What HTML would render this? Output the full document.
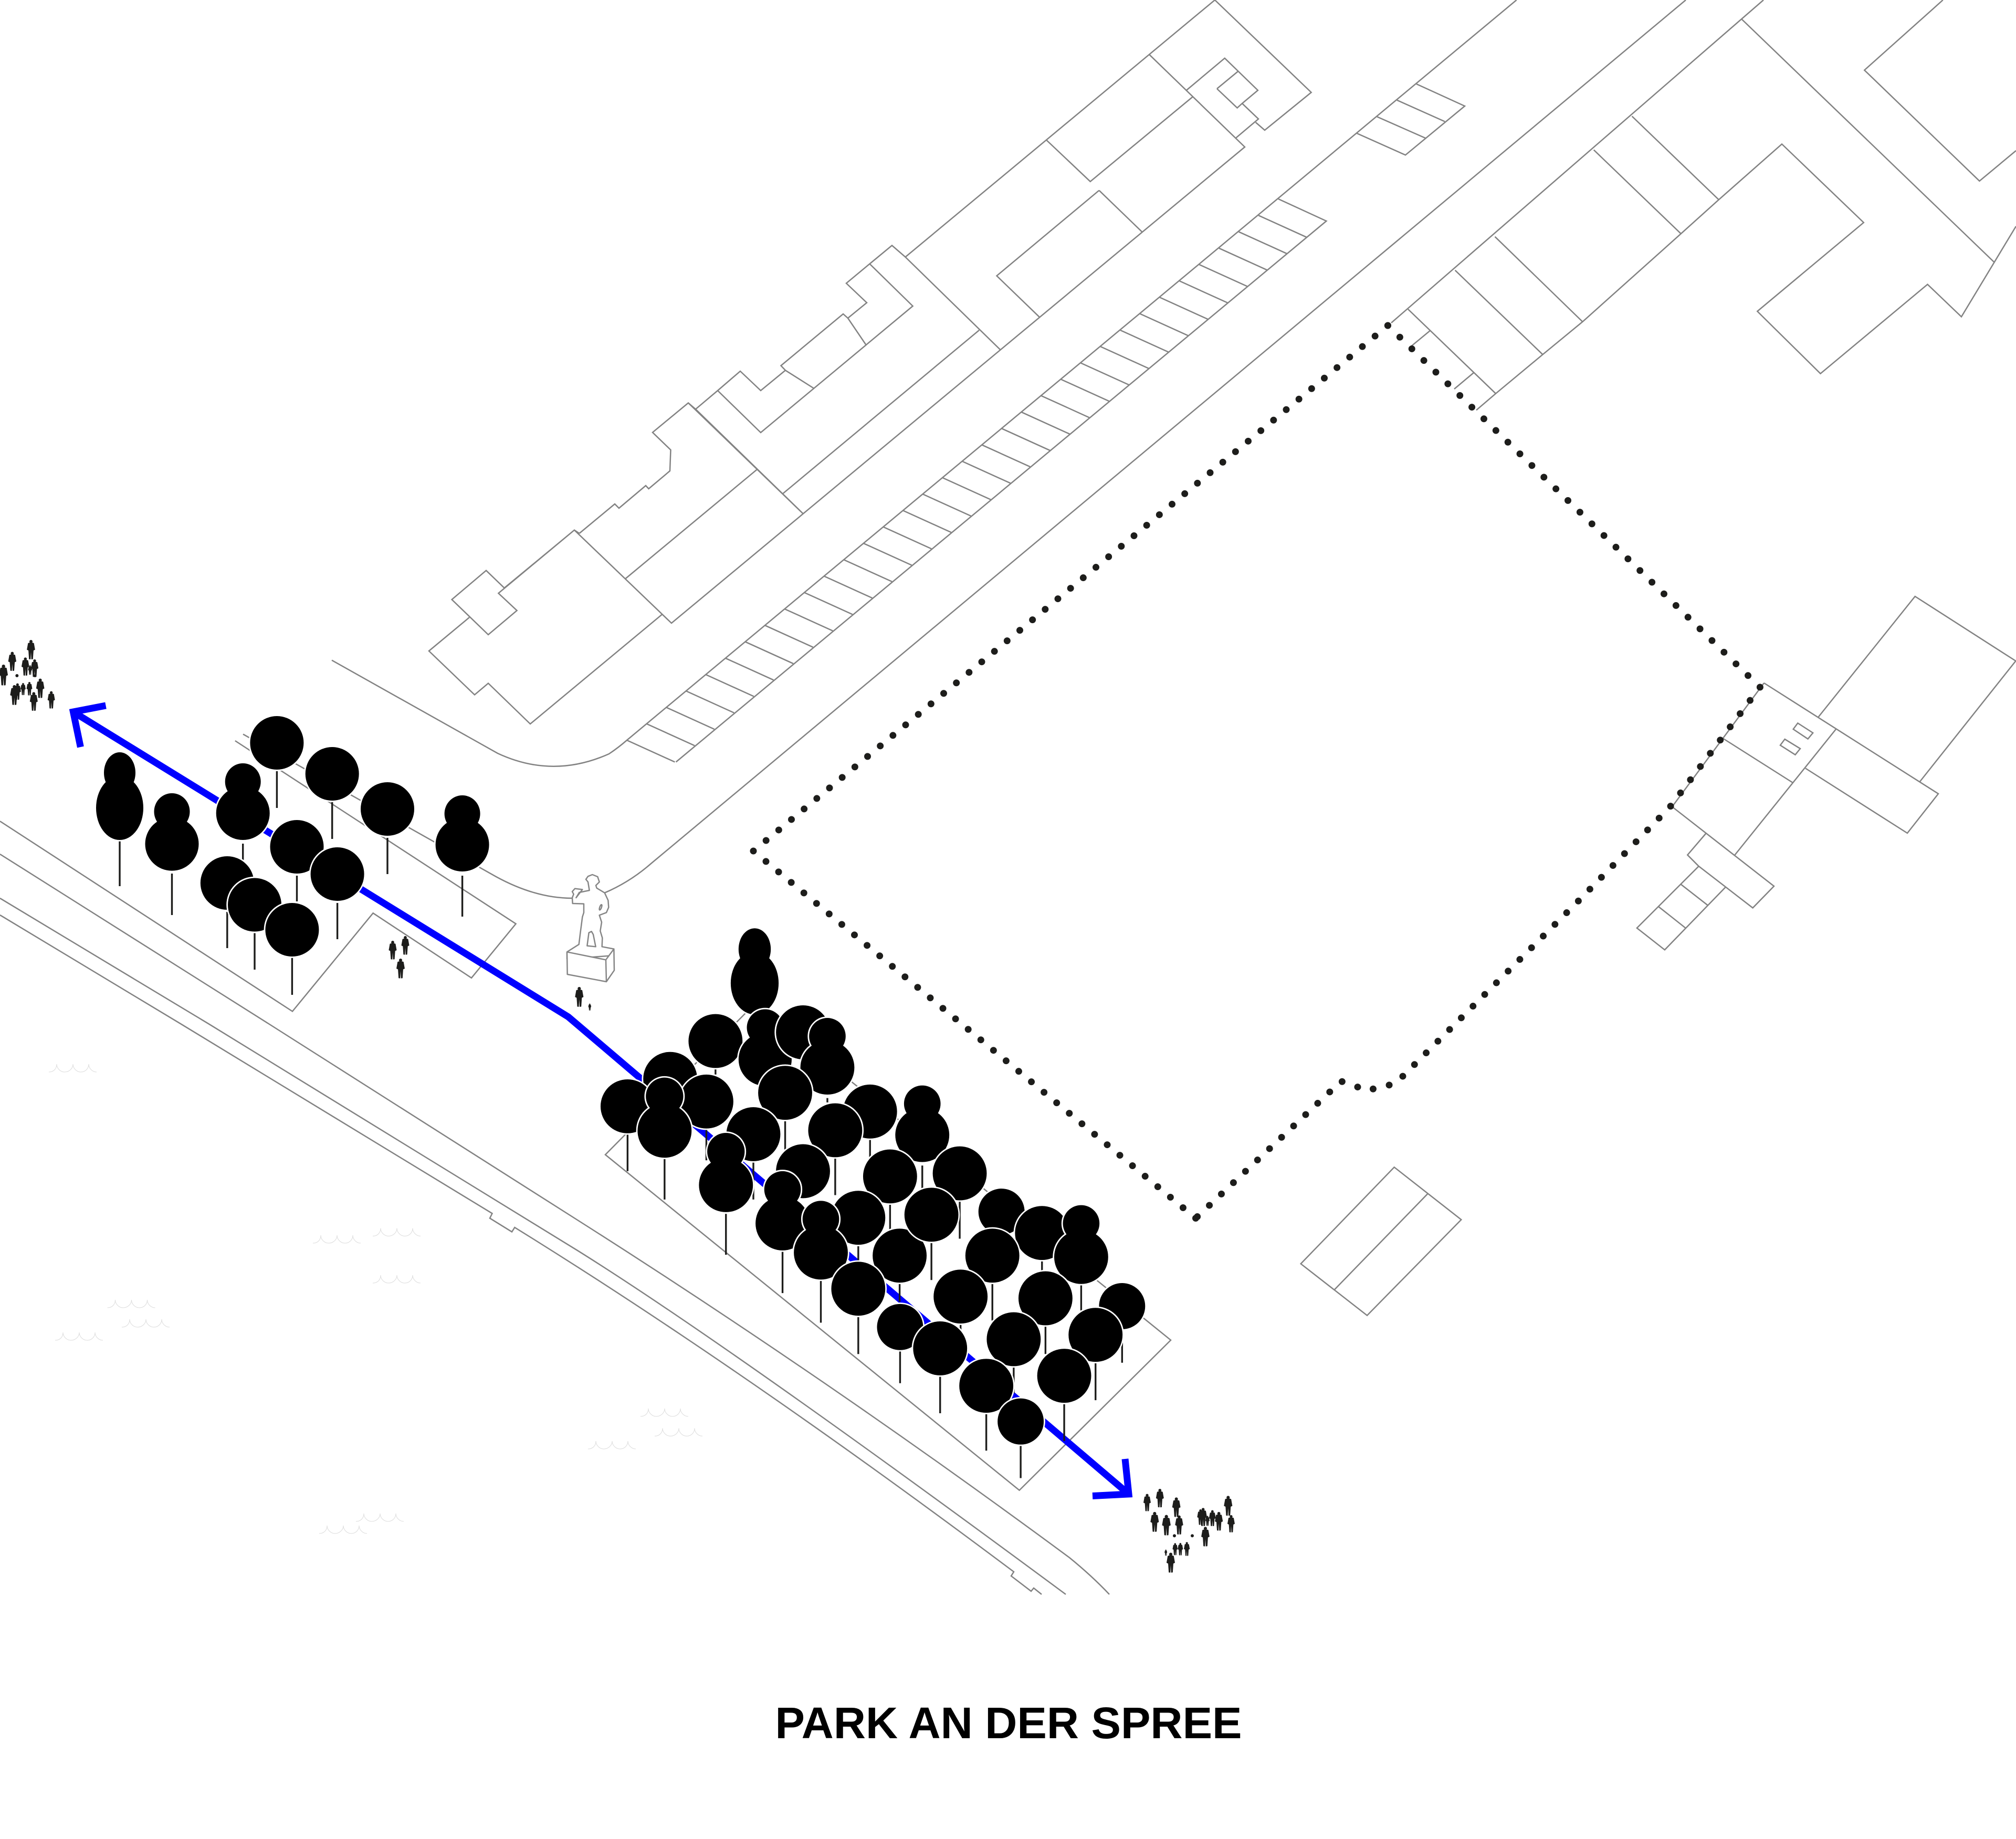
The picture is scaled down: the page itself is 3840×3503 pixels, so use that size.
<!DOCTYPE html>
<html><head><meta charset="utf-8"><title>Park an der Spree</title>
<style>
html,body{margin:0;padding:0;background:#fff}
svg{display:block}
.l{fill:none;stroke:#828282;stroke-width:2.5;stroke-linejoin:miter;vector-effect:non-scaling-stroke}
.w{fill:none;stroke:#dcdcdc;stroke-width:1;vector-effect:non-scaling-stroke}
.d{fill:none;stroke:#1d1d1b;stroke-width:13;stroke-linecap:round}
.b{fill:none;stroke:#0000ff;stroke-width:13;stroke-linejoin:miter;stroke-miterlimit:10}
.k{fill:none;stroke:#1d1d1b;stroke-width:3.4;vector-effect:non-scaling-stroke}
.t{fill:#000;stroke:#fff;stroke-width:5.5;paint-order:stroke;vector-effect:non-scaling-stroke}
.s{fill:#fff;stroke:#858585;stroke-width:2.5;stroke-linejoin:round;vector-effect:non-scaling-stroke}
.p{fill:#1d1d1b}
</style></head><body>
<svg xmlns="http://www.w3.org/2000/svg" width="3840" height="3503" viewBox="0 0 3840 3503">
<defs>
<path id="p" d="M0,0a8,8 0 1 1 -.01,0zM-15,16Q0,10 15,16L21,50L13,54L10,98L2,99L0,62L-2,99L-10,98L-13,54L-21,50Z"/>
<path id="wv" class="w" d="M0,15C10,15 15,8 15,0C15,8 22,15 30,15C39,15 46,8 46,0C46,8 53,15 61,15C70,15 76,8 76,0C76,8 83,15 91,15"/>
</defs>
<rect width="3840" height="3503" fill="#fff"/>

<!-- waves -->
<use href="#wv" x="93" y="2027"/><use href="#wv" x="596" y="2353"/><use href="#wv" x="710" y="2339.5"/><use href="#wv" x="710" y="2429"/><use href="#wv" x="204.5" y="2476"/><use href="#wv" x="232" y="2513"/><use href="#wv" x="105" y="2538"/><use href="#wv" x="1220" y="2683"/><use href="#wv" x="1247" y="2720.5"/><use href="#wv" x="1120" y="2745"/><use href="#wv" x="678" y="2883"/><use href="#wv" x="608" y="2906"/>

<!-- river / road edges -->
<path class="l" d="M0,1627L511.6,1950L1100,2324Q1580,2629 2037,2967Q2080,3002 2113,3037"/>
<path class="l" d="M0,1711L397,1950L1100,2382Q1389,2562.6 2030,3037"/>
<path class="l" d="M0,1743L343.8,1950L937.5,2311.4L933,2320.5L975,2346.5L980.4,2338Q1417,2608.6 1931,2994L1926,3002L1964,3031L1969,3025L1984,3037"/>

<!-- parks -->
<path class="l" d="M447.8,1411L982.6,1759.7L898,1862.8L710.6,1739.3L557,1926.5L0,1564.3"/>
<path class="l" d="M1153,2199.5L1941.6,2838.7L2230,2552.7L1438,1911.7Z"/>

<!-- roads -->
<path class="l" d="M463,1398.5L945,1670Q1020,1711 1090,1711"/>
<path class="l" d="M1151.7,1700.7Q1200,1680 1240,1645L3211,0"/>
<path class="l" d="M632,1257.6L948,1435Q1053,1484 1160,1436Q1178,1424 1194,1410L2888.6,0"/>

<!-- parking strips -->
<path class="l" d="M1287.6,1451.5L2526.4,421L2435,379"/>
<path class="l" d="M1194,1410l91.4,41.5m-53.8,-72.74l91.4,41.5m-53.8,-72.74l91.4,41.5m-53.8,-72.74l91.4,41.5m-53.8,-72.74l91.4,41.5m-53.8,-72.74l91.4,41.5m-53.8,-72.74l91.4,41.5m-53.8,-72.74l91.4,41.5m-53.8,-72.74l91.4,41.5m-53.8,-72.74l91.4,41.5m-53.8,-72.74l91.4,41.5m-53.8,-72.74l91.4,41.5m-53.8,-72.74l91.4,41.5m-53.8,-72.74l91.4,41.5m-53.8,-72.74l91.4,41.5m-53.8,-72.74l91.4,41.5m-53.8,-72.74l91.4,41.5m-53.8,-72.74l91.4,41.5m-53.8,-72.74l91.4,41.5m-53.8,-72.74l91.4,41.5m-53.8,-72.74l91.4,41.5m-53.8,-72.74l91.4,41.5m-53.8,-72.74l91.4,41.5m-53.8,-72.74l91.4,41.5m-53.8,-72.74l91.4,41.5m-53.8,-72.74l91.4,41.5m-53.8,-72.74l91.4,41.5m-53.8,-72.74l91.4,41.5m-53.8,-72.74l91.4,41.5m-53.8,-72.74l91.4,41.5m-53.8,-72.74l91.4,41.5m-53.8,-72.74l91.4,41.5m-53.8,-72.74l91.4,41.5"/>
<path class="l" d="M2584.6,254L2677,295.3L2790,202L2698,160M2623,222.4L2715,263M2661,190.8L2752,231.5"/>

<!-- upper-left building block -->
<path class="l" d="M2314,0L1724.5,489.6L1699,467.5L1656.5,502.6L1612,539.6L1651,576.6L1615,606L1606,598L1487.5,696.5L1496,705.4L1449,744L1410,707L1367,744L1325,779.4L1311,767.5L1243,823.7L1277.5,857L1276,897L1235.6,931L1230,925L1179,968L1171,960L1103.5,1016"/>
<path class="l" d="M1103.5,1016L1094,1009.7L960.6,1120M960.6,1120L926,1086.7L860.6,1142L930,1209L984.6,1163L949.4,1130L1094,1009.7"/>
<path class="l" d="M894,1176L817,1240L904,1323.5L930,1301.5L1010,1379L1261,1170.4"/>
<path class="l" d="M1094,1009.7L1279,1187L1905.5,666.4L2371,280L2189,103.8M2314,0L2497.6,176L2409,248L2391.7,233"/>
<path class="l" d="M1311,767.5L1529.6,978.4M1325,779.4L1529.6,978.4M1441.7,894.4L1191.7,1102M1491.7,939.8L1865,629M1724.5,489.6L1905.5,666.4"/>
<path class="l" d="M1656.5,502.6L1738.6,583L1449,824L1367,744M1615,606L1649.6,657M1496,705.4L1550.6,740"/>
<path class="l" d="M1993,266.6L2076.7,345.8L2271.7,184.5M2093.5,362.7L1898.5,525.4L1980.6,604.7M2093.5,362.7L2175.6,442"/>
<path class="l" d="M2259.8,172L2332.8,110.8L2395.9,172L2366,197L2397,226.6L2354.5,262.4M2318,169L2358,136M2318,169L2356.6,205.5L2366,197"/>

<!-- upper-right buildings -->
<path class="l" d="M3359,0L2650,615"/>
<path class="l" d="M3318,37L3798,499M3840,431L3736,603.4L3671.5,541.7L3467.5,711.7L3347.3,593L3549.8,423.9L3394,274.4L3273.8,380.4L3201.8,445.2L3014.4,612.9L2938.5,675.3L2849,749.7L2812,781.3"/>
<path class="l" d="M3108.5,221.4L3273.8,380.4M3035.7,285.5L3201.8,445.2M2847.5,450.8L3014.4,612.9M2771.6,514.8L2938.5,675.3M2682,589L2849,749.7M2723.4,630.3L2687,660.3M2807,710L2770,741"/>
<path class="l" d="M3700.8,0L3551.3,133.6L3770.4,344.8L3840,287"/>

<!-- right structure -->
<path class="l" d="M3360,1301L3692,1512L3633,1587L3439,1463.5M3463.4,1366L3647.7,1136L3839.5,1259L3656.8,1489M3360,1301L3185,1536.7M3497,1389L3303.7,1629.5M3281,1406L3415,1491M3185,1536.7L3379,1688L3338.6,1729.4L3235.7,1650L3214.3,1628.5L3249,1588M3235.7,1650L3117.9,1767.7L3170.9,1809.3L3286.6,1690M3200.4,1683.5L3252.3,1724M3158.6,1726.6L3210.5,1767.7"/>
<path class="l" d="M3424.3,1377.4L3453.2,1396L3443.6,1407.6L3415.7,1389ZM3399.6,1408L3429,1426L3419.5,1437.7L3391,1419.5Z"/>
<path class="l" d="M2655.7,2223.3L2783.3,2323.3L2604,2505.7L2477.7,2407.3ZM2719.3,2274L2541.7,2456.7"/>

<!-- dotted boundary -->
<path class="d" stroke-dasharray="0 31.89" d="M2643.5,620L3352.4,1309"/>
<path class="d" stroke-dasharray="0 31.5" d="M3352.4,1309L3181,1537L3004,1718.7L2662,2060Q2640,2072 2596,2077Q2575,2062 2554,2060L2277.5,2320.5"/>
<path class="d" stroke-dasharray="0 31.29" d="M2277.5,2320.5L1435,1621"/>
<path class="d" stroke-dasharray="0 31.38" d="M1435,1621L2643.5,620"/>

<!-- blue route -->
<path class="b" d="M139.5,1356L1082.5,1937L2150,2846"/>
<path class="b" d="M201.5,1344L139.5,1356L153.4,1423"/>
<path class="b" d="M2143,2779L2150,2846L2081,2849.5"/>

<!-- left trees (full coords) -->
<path class="k" d="M228,1602.5V1688"/><path class="t" d="M198,1472a30,39 0 1 0 60,0a30,39 0 1 0 -60,0zM183,1539a45,61 0 1 0 90,0a45,61 0 1 0 -90,0z"/>
<path class="k" d="M327.5,1664V1743"/><path class="t" d="M293.5,1546a34,35 0 1 0 68,0a34,35 0 1 0 -68,0zM276.5,1607.6a51,51 0 1 0 102,0a51,51 0 1 0 -102,0z"/>
<path class="k" d="M527.4,1469V1539"/><circle class="t" cx="527.4" cy="1415" r="51"/>
<path class="k" d="M632.7,1528V1598"/><circle class="t" cx="632.7" cy="1474" r="51"/>
<path class="k" d="M738,1596V1665"/><circle class="t" cx="738" cy="1541" r="51"/>
<path class="k" d="M880.6,1668V1746"/><path class="t" d="M846.6,1550a34,35 0 1 0 68,0a34,35 0 1 0 -68,0zM829.6,1609a51,51 0 1 0 102,0a51,51 0 1 0 -102,0z"/>
<path class="k" d="M462.7,1607V1638"/><path class="t" d="M428.7,1489a34,35 0 1 0 68,0a34,35 0 1 0 -68,0zM411.7,1549a51,51 0 1 0 102,0a51,51 0 1 0 -102,0z"/>
<path class="k" d="M565.5,1668V1717"/><circle class="t" cx="565.5" cy="1613" r="51"/>
<path class="k" d="M432.8,1737V1806"/><circle class="t" cx="432.8" cy="1682" r="51"/>
<path class="k" d="M642.6,1720V1789"/><circle class="t" cx="642.6" cy="1665" r="51"/>
<path class="k" d="M485,1777.5V1847"/><circle class="t" cx="485" cy="1723.5" r="51"/>
<path class="k" d="M556.4,1824.5V1895"/><circle class="t" cx="556.4" cy="1771" r="51"/>

<!-- right trees (zoom coords) -->
<g transform="translate(1100 1750) scale(.8292)">
<path class="t" d="M370,70a37,48 0 1 0 74,0a37,48 0 1 0 -74,0zM352,148a55,72 0 1 0 110,0a55,72 0 1 0 -110,0z"/>
<path class="k" d="M317,345V358"/><circle class="t" cx="317" cy="281" r="62"/>
<path class="t" d="M389,250a42,42 0 1 0 84,0a42,42 0 1 0 -84,0zM370,323a61,61 0 1 0 122,0a61,61 0 1 0 -122,0z"/>
<circle class="t" cx="518" cy="261" r="62"/>
<path class="k" d="M574,412V422"/><path class="t" d="M532,270a42,42 0 1 0 84,0a42,42 0 1 0 -84,0zM512,342a62,62 0 1 0 124,0a62,62 0 1 0 -124,0z"/>
<circle class="t" cx="213" cy="368" r="62"/>
<path class="k" d="M115,495V580"/><circle class="t" cx="115" cy="431" r="62"/>
<path class="k" d="M296,485V555"/><circle class="t" cx="296" cy="420" r="62"/>
<path class="k" d="M477,465V530"/><circle class="t" cx="477" cy="400" r="62"/>
<path class="k" d="M672,507V548"/><circle class="t" cx="672" cy="443" r="62"/>
<path class="k" d="M792,567V620"/><path class="t" d="M750,425a42,42 0 1 0 84,0a42,42 0 1 0 -84,0zM730,497a62,62 0 1 0 124,0a62,62 0 1 0 -124,0z"/>
<path class="k" d="M200,552V645"/><path class="t" d="M157,408a43,43 0 1 0 86,0a43,43 0 1 0 -86,0zM138,487a62,62 0 1 0 124,0a62,62 0 1 0 -124,0z"/>
<path class="k" d="M404,560V645"/><circle class="t" cx="404" cy="495" r="62"/>
<path class="k" d="M592,550V635"/><circle class="t" cx="592" cy="486" r="62"/>
<path class="k" d="M718,657V715"/><circle class="t" cx="718" cy="592" r="62"/>
<path class="k" d="M878,650V735"/><circle class="t" cx="878" cy="585" r="62"/>
<path class="k" d="M341,678V772"/><path class="t" d="M298,535a43,43 0 1 0 86,0a43,43 0 1 0 -86,0zM279,612a62,62 0 1 0 124,0a62,62 0 1 0 -124,0z"/>
<circle class="t" cx="518" cy="580" r="62"/>
<path class="k" d="M645,752V785"/><circle class="t" cx="645" cy="687" r="62"/>
<path class="k" d="M471,765V860"/><path class="t" d="M429,622a42,42 0 1 0 84,0a42,42 0 1 0 -84,0zM409,700a62,62 0 1 0 124,0a62,62 0 1 0 -124,0z"/>
<path class="k" d="M559,832V928"/><path class="t" d="M517,690a42,42 0 1 0 84,0a42,42 0 1 0 -84,0zM497,767a62,62 0 1 0 124,0a62,62 0 1 0 -124,0z"/>
<path class="k" d="M740,838V880"/><circle class="t" cx="740" cy="774" r="62"/>
<path class="k" d="M813,745V830"/><circle class="t" cx="813" cy="680" r="62"/>
<circle class="t" cx="974" cy="673" r="53"/>
<path class="k" d="M1067,787V808"/><circle class="t" cx="1067" cy="722" r="62"/>
<path class="k" d="M953,838V923"/><circle class="t" cx="953" cy="774" r="62"/>
<path class="k" d="M1157,842V900"/><path class="t" d="M1115,700a42,42 0 1 0 84,0a42,42 0 1 0 -84,0zM1095,777a62,62 0 1 0 124,0a62,62 0 1 0 -124,0z"/>
<path class="k" d="M645,915V1000"/><circle class="t" cx="645" cy="850" r="62"/>
<path class="k" d="M880,932V945"/><circle class="t" cx="880" cy="868" r="62"/>
<path class="k" d="M1075,937V1000"/><circle class="t" cx="1075" cy="872" r="62"/>
<path class="k" d="M1251,945V1020"/><circle class="t" cx="1251" cy="890" r="53"/>
<path class="k" d="M741,993V1067"/><circle class="t" cx="741" cy="938" r="53"/>
<path class="k" d="M1190,1021V1106"/><circle class="t" cx="1190" cy="956" r="62"/>
<path class="k" d="M1002,1030V1090"/><circle class="t" cx="1002" cy="966" r="62"/>
<path class="k" d="M833,1052V1136"/><circle class="t" cx="833" cy="987" r="62"/>
<path class="k" d="M1118,1115V1200"/><circle class="t" cx="1118" cy="1050" r="62"/>
<path class="k" d="M939,1138V1222"/><circle class="t" cx="939" cy="1073" r="62"/>
<path class="k" d="M1018,1210V1285"/><circle class="t" cx="1018" cy="1155" r="53"/>
</g>

<!-- statue -->
<g transform="translate(1040 1640) scale(.3333)">
<path class="s" d="M120,520L188,477L195,420L208,320L216,295L216,245L152,243L150,210L158,190L150,175L165,158L208,163L172,210L190,180L248,168L240,120L228,105L240,88L265,78L295,90L305,120L285,140L290,155L335,182L355,225L358,265L345,295L305,310L318,350L310,400L322,440L320,490L388,503L388,540L120,560Z"/>
<path class="s" d="M235,485L245,410L260,403L270,420L284,490Z"/>
<ellipse class="s" cx="312" cy="265" rx="5" ry="16" transform="rotate(20 312 265)"/>
<path class="s" d="M120,520L342,565L388,503L390,625L345,690L122,648ZM342,565L345,690"/>
<use class="p" href="#p" transform="translate(190 720) scale(1.15)"/>
<use class="p" href="#p" transform="translate(250 815) scale(.4)"/>
</g>

<!-- people -->
<g class="p">
<use href="#p" transform="translate(748 1792) scale(.36)"/>
<use href="#p" transform="translate(772 1783) scale(.36)"/>
<use href="#p" transform="translate(763 1826) scale(.38)"/>
<g transform="translate(2100 2780) scale(.3333)">
<use href="#p" transform="translate(255 197) scale(1)"/><use href="#p" transform="translate(328 168) scale(1.07)"/><use href="#p" transform="translate(422 217) scale(1.13)"/><use href="#p" transform="translate(298 300) scale(1.15)"/><use href="#p" transform="translate(365 317) scale(1.18)"/><use href="#p" transform="translate(438 320) scale(1.1)"/><use href="#p" transform="translate(575 277) scale(1.05)"/><use href="#p" transform="translate(560 285) scale(.9)"/><use href="#p" transform="translate(600 322) scale(.58)"/><use href="#p" transform="translate(628 290) scale(.92)"/><use href="#p" transform="translate(665 300) scale(1.08)"/><use href="#p" transform="translate(718 208) scale(1.15)"/><use href="#p" transform="translate(735 318) scale(1)"/><use href="#p" transform="translate(588 385) scale(1.13)"/><use href="#p" transform="translate(415 478) scale(.7)"/><use href="#p" transform="translate(445 477) scale(.72)"/><use href="#p" transform="translate(482 472) scale(.8)"/><use href="#p" transform="translate(362 515) scale(.36)"/><use href="#p" transform="translate(390 533) scale(1.15)"/>
<circle cx="411" cy="436" r="9"/><circle cx="513" cy="436" r="9"/>
</g>
<g transform="translate(0 1190) scale(.3333)">
<use href="#p" transform="translate(177 87) scale(1.12)"/><use href="#p" transform="translate(70 155) scale(1.1)"/><use href="#p" transform="translate(145 187) scale(1.05)"/><use href="#p" transform="translate(172 232) scale(.55)"/><use href="#p" transform="translate(198 198) scale(1.02)"/><use href="#p" transform="translate(20 228) scale(1.2)"/><use href="#p" transform="translate(82 345) scale(1.15)"/><use href="#p" transform="translate(100 335) scale(.95)"/><use href="#p" transform="translate(132 333) scale(.7)"/><use href="#p" transform="translate(168 327) scale(.78)"/><use href="#p" transform="translate(230 308) scale(1.12)"/><use href="#p" transform="translate(193 385) scale(1.08)"/><use href="#p" transform="translate(293 380) scale(1)"/>
<circle cx="97" cy="291" r="9"/><circle cx="200" cy="292" r="8"/>
</g>
</g>

<text x="1921" y="3311" text-anchor="middle" font-family="'Liberation Sans',sans-serif" font-weight="700" font-size="84" textLength="889" lengthAdjust="spacingAndGlyphs" fill="#000">PARK AN DER SPREE</text>
</svg>
</body></html>
